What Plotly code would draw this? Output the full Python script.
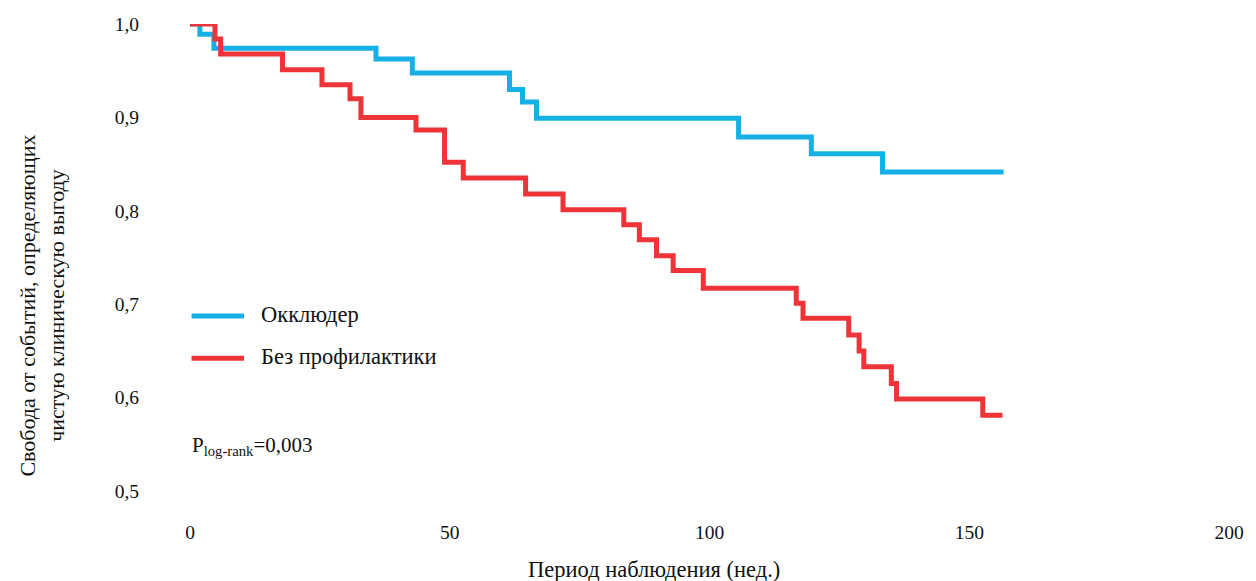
import plotly.graph_objects as go

# Data
occluder_weeks = [0, 1.9, 4.6, 35.8, 42.8, 61.5, 64.0, 66.7, 105.6, 119.6, 133.3, 156.6]
occluder_surv = [1.0, 0.989, 0.974, 0.9625, 0.9475, 0.930, 0.9165, 0.899, 0.879, 0.861, 0.8415, 0.8415]

noprophy_weeks = [0, 4.8, 5.9, 17.8, 25.4, 30.8, 32.9, 43.5, 49.0, 52.6, 64.6, 71.8, 83.5, 86.5,
                  89.8, 93.0, 98.8, 116.7, 118.0, 126.8, 128.8, 129.7, 135.0, 136.0, 152.6, 156.4]
noprophy_surv = [1.0, 0.984, 0.968, 0.951, 0.935, 0.920, 0.900, 0.8865, 0.852, 0.835, 0.818, 0.801,
                 0.785, 0.769, 0.752, 0.736, 0.717, 0.701, 0.685, 0.667, 0.650, 0.633, 0.615, 0.5985,
                 0.581, 0.581]

series_names = ["Окклюдер", "Без профилактики"]
x_ticks = [0, 50, 100, 150, 200]
y_ticks = [0.5, 0.6, 0.7, 0.8, 0.9, 1.0]

BLUE = "#15B0E5"
RED = "#EF3439"
FONT = "Liberation Serif"

fig = go.Figure()
fig.add_trace(go.Scatter(x=occluder_weeks, y=occluder_surv, mode="lines", line_shape="hv",
                         line=dict(color=BLUE, width=5), name=series_names[0], showlegend=False))
fig.add_trace(go.Scatter(x=noprophy_weeks, y=noprophy_surv, mode="lines", line_shape="hv",
                         line=dict(color=RED, width=5), name=series_names[1], showlegend=False))

# Manual legend
legend_y = [0.375, 0.284]
for name, col, y in zip(series_names, [BLUE, RED], legend_y):
    fig.add_shape(type="line", xref="paper", yref="paper", x0=0.0015, x1=0.052, y0=y, y1=y,
                  line=dict(color=col, width=5))
    fig.add_annotation(xref="paper", yref="paper", x=0.066, y=y + 0.004, text=name, showarrow=False,
                       xanchor="left", yanchor="middle", font=dict(family=FONT, size=22.5, color="#111"))

fig.add_annotation(xref="paper", yref="paper", x=0.0, y=0.097, text="P<sub>log-rank</sub>=0,003",
                   showarrow=False, xanchor="left", yanchor="middle",
                   font=dict(family=FONT, size=21, color="#111"))

fig.add_annotation(xref="paper", yref="paper", x=-0.142, y=0.398,
                   text="Свобода от событий, определяющих<br>чистую клиническую выгоду",
                   showarrow=False, textangle=-90, xanchor="center", yanchor="middle",
                   font=dict(family=FONT, size=22, color="#111"))
fig.add_annotation(xref="paper", yref="paper", x=0.447, y=-0.168,
                   text="Период наблюдения (нед.)", showarrow=False, xanchor="center", yanchor="middle",
                   font=dict(family=FONT, size=22.5, color="#111"))

fig.update_layout(
    margin=dict(l=190, r=14, t=24, b=90),
    plot_bgcolor="white", paper_bgcolor="white",
    separators=",.",
    font=dict(family=FONT, size=19.5, color="#111"),
)
fig.update_xaxes(range=[0, 200], tickvals=x_ticks, showgrid=False, zeroline=False, showline=False,
                 ticks="outside", ticklen=24, tickcolor="rgba(0,0,0,0)", ticklabeloverflow="allow")
fig.update_yaxes(range=[0.5, 1.0], tickvals=y_ticks, tickformat=".1f", showgrid=False, zeroline=False,
                 showline=False, ticks="outside", ticklen=46, tickcolor="rgba(0,0,0,0)")

fig.write_html("out.html")
